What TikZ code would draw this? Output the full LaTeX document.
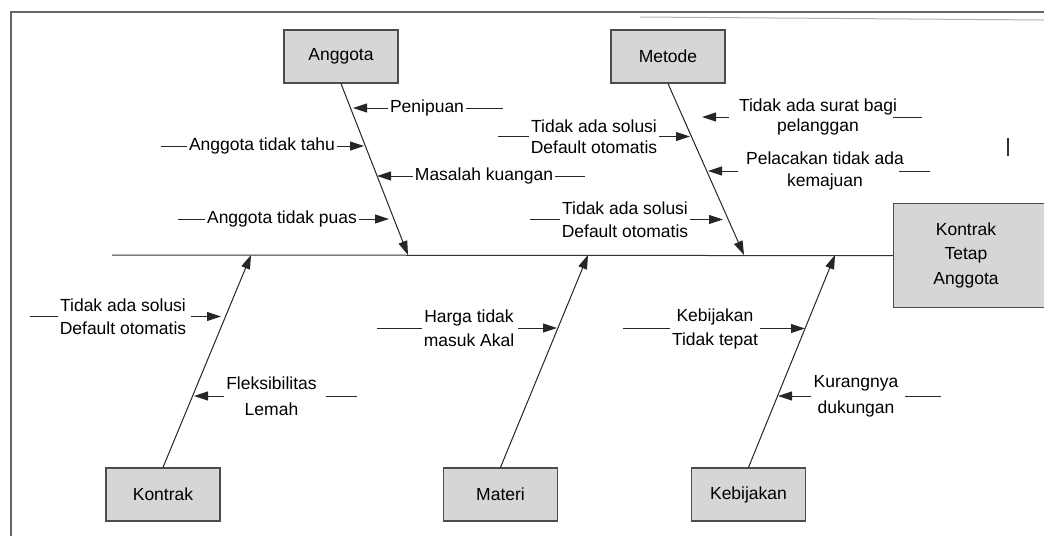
\documentclass[tikz,border=0pt]{standalone}
\usepackage{fontspec}
\setmainfont{Liberation Sans}
\usetikzlibrary{arrows.meta}
\begin{document}
\begin{tikzpicture}[x=1pt,y=-1pt,
  font=\fontsize{17.5}{21}\selectfont,
  cat/.style={draw=black!70, line width=1.3pt, fill=black!16, minimum width=114, minimum height=53, inner sep=0pt},
  lbl/.style={align=center, inner xsep=2pt, inner ysep=0pt},
  bone/.style={draw=black!80, line width=1pt},
  arr/.style={draw=black!85, line width=1pt, -{Triangle[length=14pt,width=9pt]}},
  tick/.style={draw=black!85, line width=1pt},
  frame/.style={draw=black!60, line width=1.5pt}]
\useasboundingbox (0,0) rectangle (1044,536);

% frame
\draw[frame] (11,536) -- (11,12) -- (1044,12);
\draw[black!30, line width=1pt] (640,17) -- (1044,20);

% category boxes
\node[cat] (anggota) at (341,56.5) {Anggota};
\node[cat] (metode) at (668,56.5) {Metode};
\node[cat] (kontrak) at (163,494.5) {Kontrak};
\node[cat] (materi) at (500.5,494.5) {Materi};
\node[cat] (kebijakan) at (748.5,494.5) {Kebijakan};

% head
\node[cat, minimum width=152, minimum height=104, anchor=north west] (head) at (893,203) {};
\node[lbl, font=\fontsize{17.5}{24.5}\selectfont] (headlbl) at (966,255) {Kontrak\\Tetap\\Anggota};

% spine
\coordinate (s0) at (112,255);
\draw[bone] (s0) -- (head.west);

% main bones
\coordinate (b1) at (408,255);
\coordinate (b2) at (744,255);
\coordinate (b3) at (251,255);
\coordinate (b4) at (588,255);
\coordinate (b5) at (835,255);
\draw[arr] (anggota.south) -- (b1);
\draw[arr] (metode.south) -- (b2);
\draw[arr] (kontrak.north) -- (b3);
\draw[arr] (materi.north) -- (b4);
\draw[arr] (kebijakan.north) -- (b5);

% Anggota causes
\node[lbl] (a1) at (427,108) {Penipuan};
\coordinate (a1t) at (353,108); \coordinate (a1e) at (503,108);
\draw[arr] (a1.west) -- (a1t); \draw[tick] (a1.east) -- (a1e);

\node[lbl] (a2) at (262,146) {Anggota tidak tahu};
\coordinate (a2s) at (161,146); \coordinate (a2t) at (364,146);
\draw[tick] (a2s) -- (a2.west); \draw[arr] (a2.east) -- (a2t);

\node[lbl] (a3) at (484,176) {Masalah kuangan};
\coordinate (a3t) at (377,176); \coordinate (a3e) at (585,176);
\draw[arr] (a3.west) -- (a3t); \draw[tick] (a3.east) -- (a3e);

\node[lbl] (a4) at (282,219) {Anggota tidak puas};
\coordinate (a4s) at (178,219); \coordinate (a4t) at (389,219);
\draw[tick] (a4s) -- (a4.west); \draw[arr] (a4.east) -- (a4t);

% Metode causes
\node[lbl, font=\fontsize{17.5}{21}\selectfont] (m1) at (594,136.5) {Tidak ada solusi\\Default otomatis};
\coordinate (m1s) at (498,136.5); \coordinate (m1t) at (690,136.5);
\draw[tick] (m1s) -- (m1.west); \draw[arr] (m1.east) -- (m1t);

\node[lbl, font=\fontsize{17.5}{19.5}\selectfont] (m2) at (818,117) {Tidak ada surat bagi\\pelanggan};
\coordinate (m2t) at (702,117); \coordinate (m2e) at (922,117);
\draw[arr] ([xshift=-8]m2.west) -- (m2t); \draw[tick] ([xshift=-6]m2.east) -- (m2e);

\node[lbl, font=\fontsize{17.5}{21.5}\selectfont] (m3) at (825,171) {Pelacakan tidak ada\\kemajuan};
\coordinate (m3t) at (708,171); \coordinate (m3e) at (930,171);
\draw[arr] ([xshift=-6]m3.west) -- (m3t); \draw[tick] ([xshift=-7]m3.east) -- (m3e);

\node[lbl, font=\fontsize{17.5}{22.5}\selectfont] (m4) at (625,219.5) {Tidak ada solusi\\Default otomatis};
\coordinate (m4s) at (530,219.5); \coordinate (m4t) at (723,219.5);
\draw[tick] (m4s) -- (m4.west); \draw[arr] (m4.east) -- (m4t);

% Kontrak causes
\node[lbl, font=\fontsize{17.5}{23}\selectfont] (k1) at (123,316.5) {Tidak ada solusi\\Default otomatis};
\coordinate (k1s) at (30,316.5); \coordinate (k1t) at (221,316.5);
\draw[tick] (k1s) -- (k1.west); \draw[arr] ([xshift=3]k1.east) -- (k1t);

\node[lbl, font=\fontsize{17.5}{26}\selectfont] (k2) at (271.5,396) {Fleksibilitas\\Lemah};
\coordinate (k2t) at (194,396); \coordinate (k2e) at (357,396);
\draw[arr] (k2.west) -- (k2t); \draw[tick] ([xshift=7]k2.east) -- (k2e);

% Materi cause
\node[lbl, font=\fontsize{17.5}{24}\selectfont] (h1) at (469,328) {Harga tidak\\masuk Akal};
\coordinate (h1s) at (377,328); \coordinate (h1t) at (557,328);
\draw[tick] (h1s) -- (h1.west); \draw[arr] ([xshift=2]h1.east) -- (h1t);

% Kebijakan causes
\node[lbl, font=\fontsize{17.5}{24}\selectfont] (p1) at (715,328.5) {Kebijakan\\Tidak tepat};
\coordinate (p1s) at (623,328.5); \coordinate (p1t) at (805,328.5);
\draw[tick] (p1s) -- (p1.west); \draw[arr] (p1.east) -- (p1t);

\node[lbl, font=\fontsize{17.5}{26}\selectfont] (p2) at (856,396) {Kurangnya\\dukungan};
\coordinate (p2t) at (778,396); \coordinate (p2e) at (941,396);
\draw[arr] (p2.west) -- (p2t); \draw[tick] ([xshift=4]p2.east) -- (p2e);

% cursor mark
\draw[black!80, line width=1.3pt] (1008,138) -- (1008,156);
\end{tikzpicture}
\end{document}
